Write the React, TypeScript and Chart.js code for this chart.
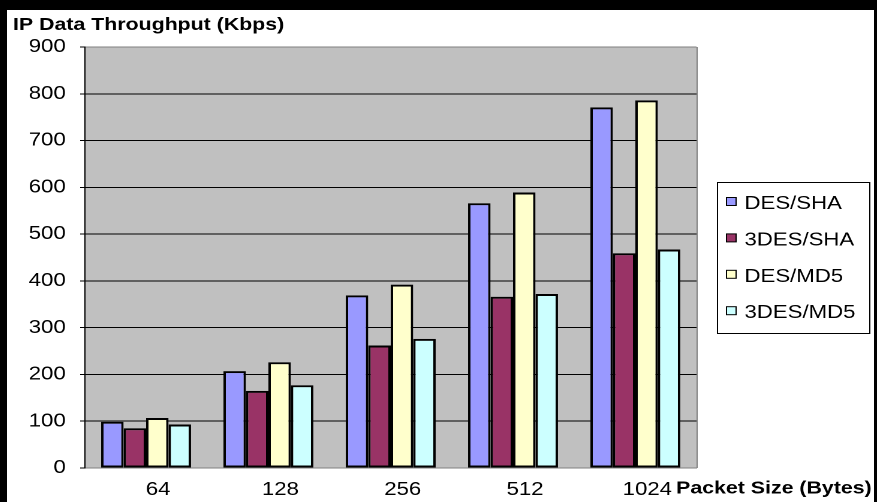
import React, { useEffect, useRef } from 'react';
import { Chart, registerables } from 'chart.js';

Chart.register(...registerables);

// Packet sizes on the category axis
const categories = ['64', '128', '256', '512', '1024'];

// Throughput per cipher suite (Kbps)
const seriesNames = ['DES/SHA', '3DES/SHA', 'DES/MD5', '3DES/MD5'];
const desSha = [99, 207, 369, 566, 771];
const tripleDesSha = [85, 165, 262, 366, 459];
const desMd5 = [107, 226, 392, 589, 786];
const tripleDesMd5 = [93, 177, 276, 372, 467];
const seriesColors = ['#9999FF', '#993366', '#FFFFCC', '#CCFFFF'];

// Value axis
const yMin = 0;
const yMax = 900;
const yStep = 100;

const yTitle = 'IP Data Throughput (Kbps)';
const xTitle = 'Packet Size (Bytes)';

const FONT = '"Liberation Sans", Arial, Helvetica, sans-serif';
const FONT_SIZE = 18.5;
const TITLE_SIZE = 17.8;

// Internal drawing surface; the canvas is stretched horizontally by CSS
const W = 723;
const H = 492;
const CSS_W = 867;

const decorations = {
  id: 'decorations',
  beforeDraw(chart: any) {
    const { ctx, chartArea } = chart;
    ctx.save();
    ctx.fillStyle = '#C0C0C0';
    ctx.fillRect(chartArea.left, chartArea.top, chartArea.right - chartArea.left, chartArea.bottom - chartArea.top);
    ctx.restore();
  },
  afterDraw(chart: any) {
    const { ctx, chartArea } = chart;
    ctx.save();
    // right frame edge of the plot
    ctx.strokeStyle = '#808080';
    ctx.lineWidth = 1;
    ctx.beginPath();
    ctx.moveTo(Math.round(chartArea.right) + 0.5, chartArea.top);
    ctx.lineTo(Math.round(chartArea.right) + 0.5, chartArea.bottom);
    ctx.stroke();

    // axis titles
    ctx.fillStyle = '#000';
    ctx.font = `bold ${TITLE_SIZE}px ${FONT}`;
    ctx.textAlign = 'left';
    ctx.textBaseline = 'alphabetic';
    ctx.fillText(yTitle, 5, 20);
    ctx.fillText(xTitle, 558, 483.5);

    // legend box
    const lx = 592;
    const ly = 172;
    const lw = 127;
    const lh = 151;
    ctx.fillStyle = '#FFFFFF';
    ctx.fillRect(lx, ly, lw, lh);
    ctx.strokeStyle = '#000';
    ctx.lineWidth = 1;
    ctx.strokeRect(lx + 0.5, ly + 0.5, lw, lh);

    ctx.font = `${FONT_SIZE}px ${FONT}`;
    chart.data.datasets.forEach((ds: any, i: number) => {
      const base = 199 + i * 36.4;
      ctx.fillStyle = ds.backgroundColor;
      ctx.fillRect(600, base - 11.5, 8, 8);
      ctx.strokeStyle = '#000';
      ctx.lineWidth = 1;
      ctx.strokeRect(600, base - 11.5, 8, 8);
      ctx.fillStyle = '#000';
      ctx.fillText(ds.label, 615, base);
    });
    ctx.restore();
  },
};

export default function App() {
  const canvasRef = useRef<HTMLCanvasElement | null>(null);

  useEffect(() => {
    if (!canvasRef.current) return;
    const values = [desSha, tripleDesSha, desMd5, tripleDesMd5];
    const chart = new Chart(canvasRef.current, {
      type: 'bar',
      data: {
        labels: categories,
        datasets: values.map((v, i) => ({
          label: seriesNames[i],
          data: v,
          backgroundColor: seriesColors[i],
          borderColor: '#000000',
          borderWidth: 2,
          borderSkipped: false,
          barPercentage: 1,
          categoryPercentage: 0.735,
        })),
      },
      options: {
        responsive: false,
        animation: false,
        devicePixelRatio: 2,
        layout: { padding: { top: 37, right: W - 575, left: 0, bottom: 0 } },
        plugins: {
          legend: { display: false },
          title: { display: false },
          tooltip: { enabled: false },
        },
        scales: {
          x: {
            grid: { display: false, drawTicks: false },
            border: { color: '#808080', width: 1 },
            ticks: {
              color: '#000',
              font: { family: FONT, size: FONT_SIZE },
              padding: 11,
              labelOffset: 10,
              maxRotation: 0,
            },
            afterFit(scale: any) {
              scale.height = 34;
            },
          },
          y: {
            min: yMin,
            max: yMax,
            grid: {
              color: (c: any) => (c.tick && (c.tick.value === yMax || c.tick.value === yMin) ? '#808080' : '#000000'),
              tickColor: '#000000',
              tickLength: 4,
              lineWidth: 1,
            },
            border: { color: '#000000', width: 1 },
            ticks: {
              stepSize: yStep,
              color: '#000',
              font: { family: FONT, size: FONT_SIZE },
              padding: 12,
            },
            afterFit(scale: any) {
              scale.width = 65;
            },
          },
        },
      },
      plugins: [decorations],
    });
    return () => chart.destroy();
  }, []);

  return (
    <div
      style={{
        position: 'fixed',
        left: 0,
        top: 0,
        width: 877,
        height: 502,
        background: '#000',
        overflow: 'hidden',
      }}
    >
      <canvas
        ref={canvasRef}
        width={W}
        height={H}
        style={{
          position: 'absolute',
          left: 7,
          top: 10,
          width: `${CSS_W}px`,
          height: `${H}px`,
          background: '#FFFFFF',
        }}
      />
    </div>
  );
}
